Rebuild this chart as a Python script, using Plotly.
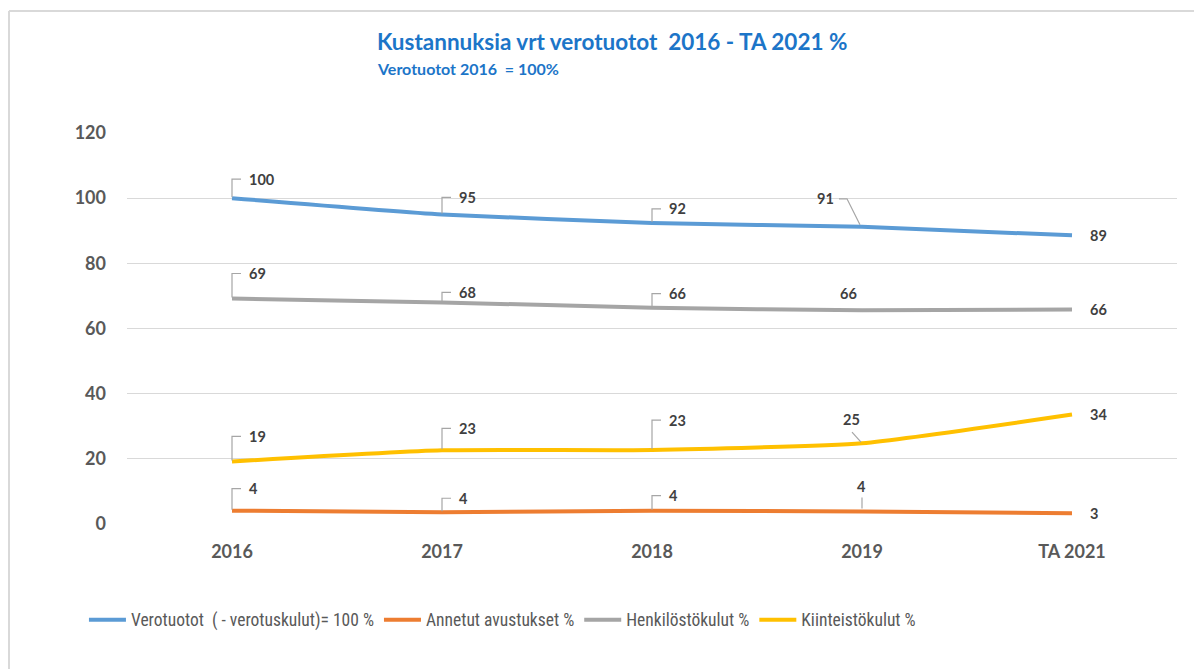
import plotly.graph_objects as go

categories = ["2016", "2017", "2018", "2019", "TA 2021"]
verotuotot = [100.0, 95.0, 92.4, 91.2, 88.6]
avustukset = [4.1, 3.6, 4.1, 3.8, 3.3]
henkilosto = [69.2, 68.0, 66.4, 65.6, 65.8]
kiinteisto = [19.2, 22.6, 22.7, 24.8, 33.6]
y_ticks = [0, 20, 40, 60, 80, 100, 120]

series = [
    ("Verotuotot  ( - verotuskulut)= 100 %", verotuotot, "#5B9BD5"),
    ("Annetut avustukset %", avustukset, "#ED7D31"),
    ("Henkilöstökulut %", henkilosto, "#A5A5A5"),
    ("Kiinteistökulut %", kiinteisto, "#FFC000"),
]

# label placement styles (pixel offsets): kind, dx, dy
elbow = lambda dy: ("elbow", 15, dy)
label_style = {
    "Verotuotot  ( - verotuskulut)= 100 %": [elbow(19), elbow(17), elbow(14), ("diag91", -37, 28), ("right", 16, 0)],
    "Henkilöstökulut %": [elbow(25), elbow(10), elbow(14), ("above", -14, 17), ("right", 16, 0)],
    "Kiinteistökulut %": [elbow(25), elbow(22), elbow(30), ("diag25", -11, 24), ("right", 16, 0)],
    "Annetut avustukset %": [elbow(22), elbow(14), elbow(15), ("tick4", -1, 25), ("right", 16, 0)],
}

FONT = "Lato, 'Open Sans', sans-serif"
LEGEND_FONT = "'Liberation Sans Narrow', 'Roboto Condensed', Lato, sans-serif"
LABEL_COLOR = "#404040"
LEADER = "#A6A6A6"

fig = go.Figure()
xs = list(range(len(categories)))
for name, vals, color in series:
    fig.add_trace(go.Scatter(
        x=xs, y=vals, name=name, mode="lines",
        line=dict(color=color, width=4, shape="spline", smoothing=0.5),
        hoverinfo="skip",
    ))

annotations = []
shapes = []
for name, vals, color in series:
    for i, v in enumerate(vals):
        kind, dx, dy = label_style[name][i]
        txt = f"<b>{round(v):d}</b>"
        anchor = "left" if kind in ("elbow", "right") else "center"
        annotations.append(dict(
            x=i, y=v, xref="x", yref="y", text=txt, showarrow=False,
            xanchor=anchor, yanchor="middle", xshift=dx, yshift=dy,
            font=dict(family=FONT, size=14.5, color=LABEL_COLOR),
        ))
        path = None
        if kind == "elbow":
            path = f"M0,1 L0,{dy} L9,{dy}"
        elif kind == "diag91":
            path = "M-2,2 L-15,28 L-23,28"
        elif kind == "diag25":
            path = "M-1,1 L-10,11"
        elif kind == "tick4":
            path = "M0,3 L0,14"
        if path:
            shapes.append(dict(
                type="path", xref="x", yref="y", xsizemode="pixel", ysizemode="pixel",
                xanchor=i, yanchor=v, path=path,
                line=dict(color=LEADER, width=1.2), layer="above",
            ))

# title and subtitle
annotations.append(dict(
    x=0.236, y=1.233, xref="paper", yref="paper", xanchor="left", yanchor="middle",
    text="<b>Kustannuksia vrt verotuotot \u00a02016 - TA 2021 %</b>", showarrow=False,
    font=dict(family=FONT, size=22.5, color="#1C75C8"),
))
annotations.append(dict(
    x=0.236, y=1.166, xref="paper", yref="paper", xanchor="left", yanchor="middle",
    text="<b>Verotuotot 2016 \u00a0= 100%</b>", showarrow=False,
    font=dict(family=FONT, size=16, color="#1C75C8"),
))

# outer chart border (top and left edges)
shapes.append(dict(type="line", xref="paper", yref="paper", x0=-0.1124, x1=1.05, y0=1.312, y1=1.312,
                   line=dict(color="#D9D9D9", width=2)))
shapes.append(dict(type="line", xref="paper", yref="paper", x0=-0.1124, x1=-0.1124, y0=1.312, y1=-0.5,
                   line=dict(color="#D9D9D9", width=2)))

fig.update_layout(
    width=1202, height=669,
    margin=dict(l=119, r=33, t=125, b=153),
    paper_bgcolor="white", plot_bgcolor="white",
    font=dict(family=FONT, color="#595959"),
    showlegend=True,
    legend=dict(orientation="h", x=-0.041, xanchor="left", y=-0.245, yanchor="middle",
                font=dict(family=LEGEND_FONT, size=17.5, color="#595959"), itemwidth=37,
                traceorder="normal", tracegroupgap=0),
    annotations=annotations,
    shapes=shapes,
)
fig.update_xaxes(
    range=[-0.5, len(categories) - 0.5], tickvals=xs,
    ticktext=[f"<b>{c}</b>" for c in categories],
    tickfont=dict(family=FONT, size=18, color="#595959"),
    showgrid=False, zeroline=False, showline=False, ticks="", ticklabelstandoff=15,
)
fig.update_yaxes(
    range=[0, 120], tickvals=y_ticks,
    ticktext=[f"<b>{t}</b>" for t in y_ticks],
    tickfont=dict(family=FONT, size=18, color="#595959"),
    showgrid=True, gridcolor="#D9D9D9", gridwidth=1, zeroline=False, showline=False,
    ticks="", ticklabelstandoff=20,
)

fig.write_html("out.html")
